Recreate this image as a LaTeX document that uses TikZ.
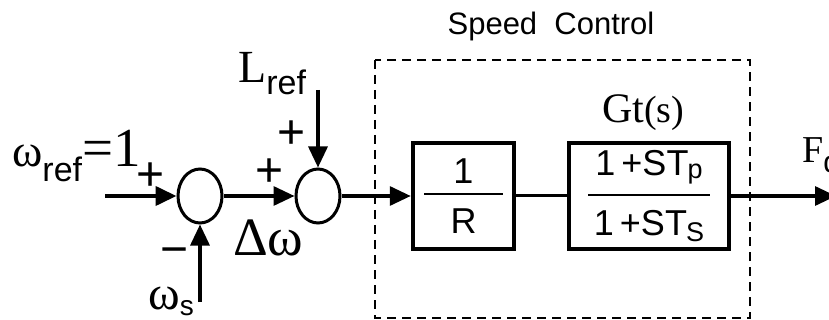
\documentclass[tikz,border=0pt]{standalone}
\usepackage{fontspec}
\setmainfont{Liberation Serif}
\setsansfont{Liberation Sans}
\usetikzlibrary{arrows.meta,shapes.geometric}

\newcommand{\fsz}[1]{\fontsize{#1}{#1}\selectfont}
\newcommand{\blkfrac}[3]{\vbox{\hbox to #1{\hfil #2\hfil}\kern10pt\hrule height 1.8pt\kern14pt\hbox to #1{\hfil #3\hfil}}}

\begin{document}
\begin{tikzpicture}[x=1pt, y=-1pt,
    sumnode/.style={ellipse, draw, line width=3pt, minimum width=44pt, minimum height=54pt, inner sep=0pt},
    blockbox/.style={draw, line width=4.5pt, minimum height=106pt, inner sep=0pt, font=\sffamily\fsz{36}},
    sig/.style={line width=3.2pt, -{Triangle[length=21pt,width=19pt]}},
    wire/.style={line width=3pt},
    lbl/.style={inner sep=0pt},
    sgn/.style={inner sep=0pt, font=\sffamily\fsz{48}}]
    \useasboundingbox (0,0) rectangle (829,320);

    % Summing junctions and blocks
    \node[sumnode] (sumA) at (200,196) {};
    \node[sumnode] (sumB) at (318,196) {};
    \node[blockbox, minimum width=101pt] (gain) at (463.5,196) {\blkfrac{79pt}{1}{R}};
    \node[blockbox, minimum width=160pt] (gt)   at (649,196)
      {\blkfrac{122pt}{1\,+ST\kern-1pt\raisebox{-3pt}{\fsz{27}p}}{1\,+ST\kern-1pt\raisebox{-6pt}{\fsz{27}S}}};

    % Speed control frame
    \draw[line width=1.3pt, dash pattern=on 9pt off 6pt] (375,60) rectangle (750,318);
    \node[lbl, font=\sffamily\fsz{31}] (title) at (551,26) {Speed\ \ Control};
    \node[lbl, anchor=base west] (gtlabel) at (602,123) {\fsz{42}Gt\fsz{38}(s)};

    % Signals
    \coordinate (wref) at (105,196);
    \coordinate (wsys) at (200,302);
    \coordinate (lref) at (318,90);
    \coordinate (fout) at (836,196);
    \draw[sig, line width=4pt] (wref) -- (sumA);
    \draw[sig] (wsys) -- (sumA);
    \draw[sig] (sumA) -- (sumB);
    \draw[sig] (lref) -- (sumB);
    \draw[sig] (sumB) -- (gain);
    \draw[wire] (gain) -- (gt);
    \draw[sig] (gt) -- (fout);

    % Labels
    \node[lbl, anchor=base west] (wreflabel) at (12,167)
      {\fsz{46}ω\raisebox{-15pt}{\sffamily\fsz{34}ref}\fsz{55}=1};
    \node[lbl, anchor=base west] (lreflabel) at (238,83)
      {\fsz{46}L\raisebox{-12pt}{\sffamily\fsz{34}ref}};
    \node[lbl, anchor=base west] (dwlabel) at (233,255) {\fsz{54}Δω};
    \node[lbl, anchor=base west] (wslabel) at (148,309)
      {\fsz{48}ω\raisebox{-6pt}{\sffamily\fsz{28}s}};
    \node[lbl, anchor=base west] (fdlabel) at (802,163)
      {\fsz{38}F\raisebox{-10pt}{\sffamily\fsz{30}d}};
    \node[sgn] (plusA) at (151,177) {+};
    \node[sgn] (minusA) at (175,257) {−};
    \node[sgn] (plusB) at (270,173) {+};
    \node[sgn] (plusC) at (292,135) {+};
\end{tikzpicture}
\end{document}
